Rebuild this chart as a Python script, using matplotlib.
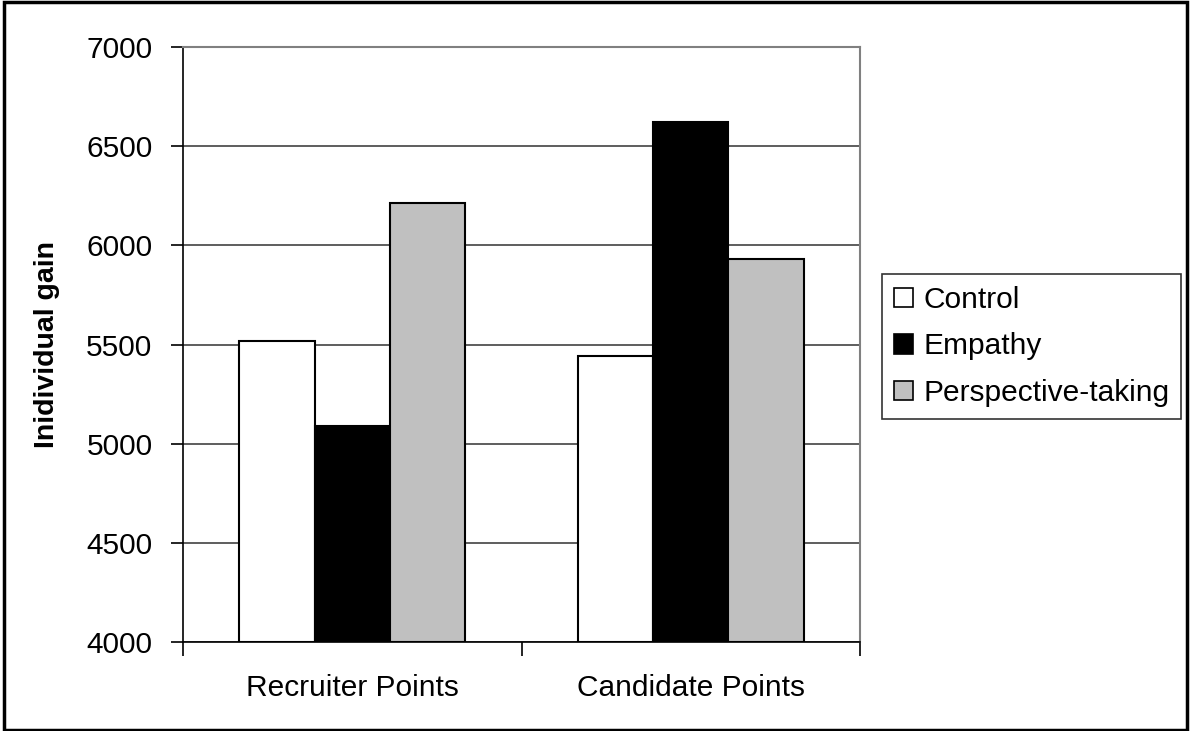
import numpy as np
import matplotlib
matplotlib.use("Agg")
import matplotlib.pyplot as plt
from matplotlib.patches import Rectangle

plt.rcParams['font.family'] = ['Liberation Sans', 'DejaVu Sans']

# categories and group means
categories = ['Recruiter Points', 'Candidate Points']
conditions = ['Control', 'Empathy', 'Perspective-taking']
control = [5518, 5440]
empathy = [5089, 6620]
perspective = [6215, 5929]
y_ticks = [4000, 4500, 5000, 5500, 6000, 6500, 7000]

fig = plt.figure(figsize=(11.91, 7.31), dpi=100)
ax = fig.add_axes([183 / 1191, 1 - 642 / 731, (860 - 183) / 1191, (642 - 47) / 731])

x = np.arange(len(categories))
w = 1 / 4.5
series = [control, empathy, perspective]
colors = ['white', 'black', '#C0C0C0']
for i, (vals, col, lab) in enumerate(zip(series, colors, conditions)):
    ax.bar(x + (i - 1) * w, np.array(vals) - 4000, bottom=4000, width=w,
           color=col, edgecolor='black', linewidth=1.5, label=lab, zorder=3)

ax.set_xlim(-0.5, 1.5)
ax.set_ylim(4000, 7000)
ax.set_yticks(y_ticks)
ax.yaxis.grid(True, color='#505050', linewidth=1.3, zorder=0)

ax.set_xticks(x)
ax.set_xticklabels(categories, fontsize=21.5)
ax.tick_params(axis='x', which='major', length=0, pad=23)
ax.set_xticks([-0.5, 0.5, 1.5], minor=True)
ax.tick_params(axis='x', which='minor', length=10, width=1.2, color='black')
ax.tick_params(axis='y', labelsize=21.5, length=9, width=1.2, pad=13)

ax.set_ylabel('Inidividual gain', fontsize=20.5, fontweight='bold', labelpad=19)

for side in ['left', 'bottom']:
    ax.spines[side].set_color('black')
    ax.spines[side].set_linewidth(1.2)
for side in ['top', 'right']:
    ax.spines[side].set_color('#808080')
    ax.spines[side].set_linewidth(1.5)

leg = ax.legend(loc='upper left', bbox_to_anchor=(882 / 1191, 1 - 274 / 731),
                bbox_transform=fig.transFigure, fontsize=21.5, frameon=True,
                fancybox=False, handlelength=0.63, handleheight=0.63,
                handletextpad=0.35, labelspacing=0.62, borderpad=0.4,
                borderaxespad=0)
leg.get_frame().set_edgecolor('black')
leg.get_frame().set_linewidth(1.2)
for h in leg.legend_handles:
    h.set_linewidth(1.2)

# outer frame around the whole chart
fig.patches.append(Rectangle((0.003, 0.002), 0.994, 0.995, transform=fig.transFigure,
                             fill=False, edgecolor='black', linewidth=2.5))

fig.savefig('out.png', dpi=100)
